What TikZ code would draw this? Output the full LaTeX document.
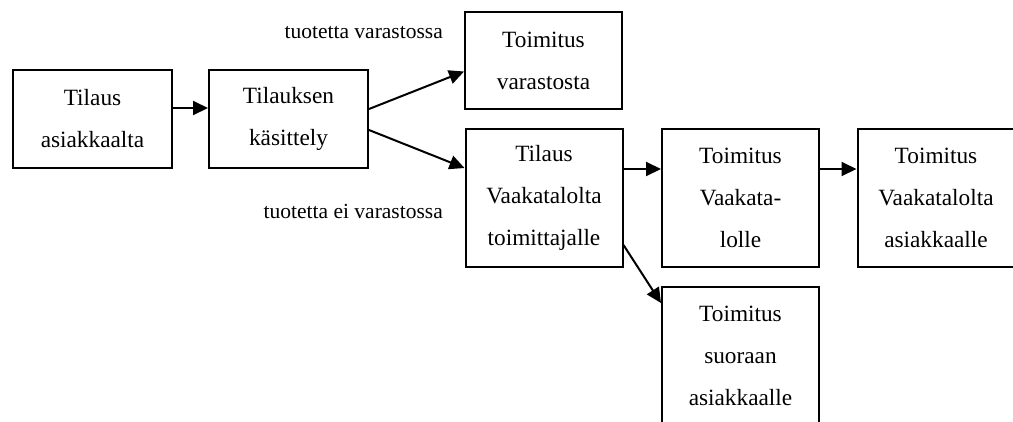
\documentclass[tikz,border=0pt]{standalone}
\usepackage{fontspec}
\setmainfont{Liberation Serif}
\usetikzlibrary{arrows.meta}
\tikzset{
  box/.style={draw, line width=2pt, minimum width=157pt, minimum height=#1, inner sep=0pt, align=center, font=\fontsize{23.3}{42}\selectfont},
  box/.default=98pt,
  conn/.style={line width=2pt, -{Triangle[length=15pt,width=14pt]}},
  lbl/.style={anchor=east, inner sep=0pt, font=\fontsize{21.5}{26}\selectfont}
}
\begin{document}
\begin{tikzpicture}[x=1pt,y=-1pt]
\useasboundingbox (0,0) rectangle (1013,421);
\clip (0,0) rectangle (1013,421);
\fill[white] (0,0) rectangle (1013,421);
\node[box, minimum width=159pt] (b1) at (92.5,119) {Tilaus\\asiakkaalta};
\node[box, minimum width=159pt] (b2) at (288.5,119) {Tilauksen\\käsittely};
\node[box=97pt] (tv) at (543.5,60.5) {Toimitus\\varastosta};
\node[box=138pt] (tilv) at (544,198) {Tilaus\\Vaakatalolta\\toimittajalle};
\node[box=138pt] (tvl) at (740.5,198) {Toimitus\\Vaakata-\\lolle};
\node[box=138pt] (tva) at (936,198) {Toimitus\\Vaakatalolta\\asiakkaalle};
\node[box=138pt] (ts) at (740.5,356) {Toimitus\\suoraan\\asiakkaalle};
\node[lbl] (l1) at (443,33) {tuotetta varastossa};
\node[lbl] (l2) at (443,211) {tuotetta ei varastossa};
\draw[conn] ([yshift=11pt]b1.east) -- ([yshift=11pt]b2.west);
\draw[conn] ([yshift=10pt]b2.east) -- ([yshift=-11pt]tv.west);
\draw[conn] ([yshift=-11pt]b2.east) -- ([yshift=30pt]tilv.west);
\draw[conn] ([yshift=29pt]tilv.east) -- ([yshift=29pt]tvl.west);
\draw[conn] ([yshift=29pt]tvl.east) -- ([yshift=29pt]tva.west);
\draw[conn] ([yshift=-47pt]tilv.east) -- ([yshift=53pt]ts.west);
\end{tikzpicture}
\end{document}
